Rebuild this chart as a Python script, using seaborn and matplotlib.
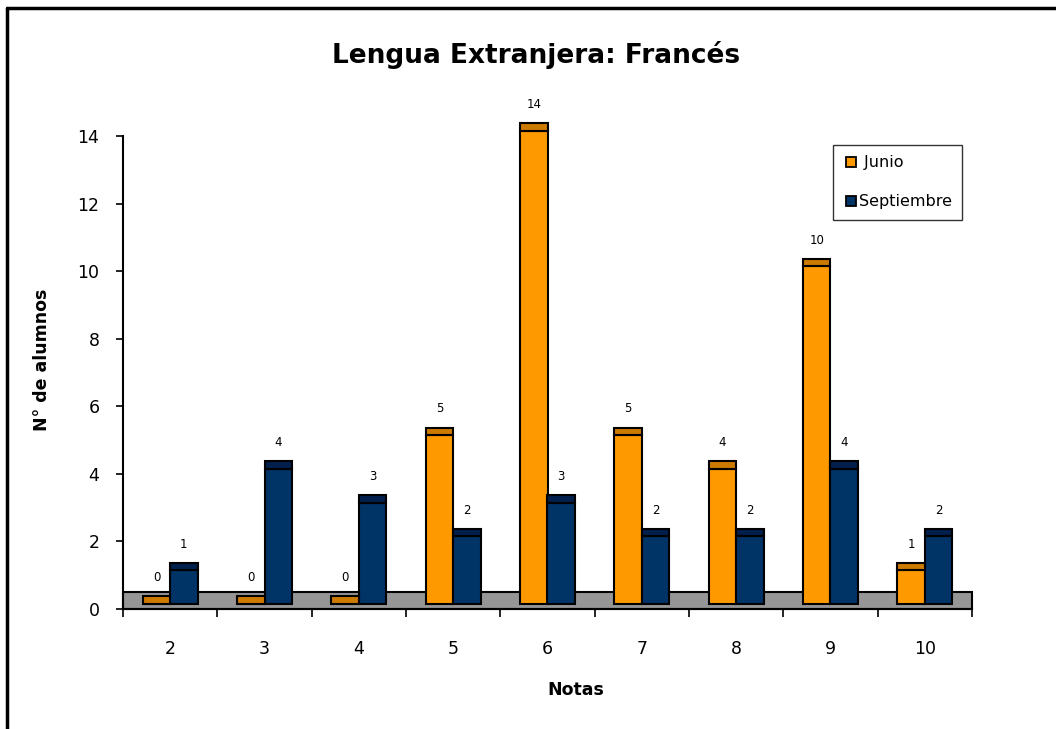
"""
plot.py
bar chart of grades, Junio vs Septiembre (excel style with little 3d caps)
"""

import seaborn as sns
import matplotlib.pyplot as plt
import pandas as pd
from matplotlib.patches import Rectangle
from matplotlib.lines import Line2D

notas = ['2', '3', '4', '5', '6', '7', '8', '9', '10']
junio = [0, 0, 0, 5, 14, 5, 4, 10, 1]
septiembre = [1, 4, 3, 2, 3, 2, 2, 4, 2]
series = ['Junio', 'Septiembre']

# colours: main face and darker top cap
colors = ['#FF9900', '#003366']
cap_colors = ['#CC7A00', '#001F4D']

df = pd.DataFrame({'Notas': notas, 'Junio': junio, 'Septiembre': septiembre})
df = df.melt(id_vars=['Notas'], var_name='Convocatoria', value_name='alumnos')

sns.set_style('ticks')
plt.rcParams['text.color'] = 'black'
plt.rcParams['xtick.color'] = 'black'
plt.rcParams['ytick.color'] = 'black'

fig = plt.figure(figsize=(10.56, 7.29), dpi=100)
ax = fig.add_axes([123/1056, 1 - 609/729, 849/1056, 473/729])

sns.barplot(data=df, x='Notas', y='alumnos', hue='Convocatoria', order=notas,
            hue_order=series, palette=colors, width=0.58, edgecolor='black',
            linewidth=1.5, saturation=1, legend=False, ax=ax, zorder=3)

bars = list(ax.patches)
base = 0.15
cap = 0.22
for i, p in enumerate(bars):
    s = i // len(notas)
    v = p.get_height()
    # lift bar onto the floor
    p.set_y(base)
    p.set_clip_on(False)
    ax.bar(p.get_x(), cap, width=p.get_width(), bottom=v + base, align='edge',
           color=cap_colors[s], edgecolor='black', linewidth=1.5, zorder=3, clip_on=False)
    ax.text(p.get_x() + p.get_width() / 2, v + base + cap + 0.55, str(int(v)),
            ha='center', va='center', fontsize=8.5, color='black')

# grey floor behind the bars
ax.add_patch(Rectangle((-0.5, 0), len(notas), 0.5, facecolor='#969696',
                       edgecolor='black', linewidth=1.5, zorder=1, clip_on=False))

ax.set_xlim(-0.5, len(notas) - 0.5)
ax.set_ylim(0, 14)
ax.set_yticks([0, 2, 4, 6, 8, 10, 12, 14])
ax.set_xticks(range(len(notas)))
ax.set_xticklabels(notas)
ax.set_xticks([i - 0.5 for i in range(len(notas) + 1)], minor=True)
ax.tick_params(axis='x', which='major', length=0, pad=22, labelsize=12.5)
ax.tick_params(axis='x', which='minor', bottom=True, length=6, width=1.2, direction='out')
ax.tick_params(axis='y', left=True, length=5, width=1.2, direction='out', labelsize=12.5, pad=12)
ax.set_xlabel('')
ax.set_ylabel('')
for s in ['top', 'right']:
    ax.spines[s].set_visible(False)
for s in ['left', 'bottom']:
    ax.spines[s].set_linewidth(1.5)
    ax.spines[s].set_color('black')

# legend
handles = [Line2D([], [], marker='s', linestyle='', markersize=7.5, markerfacecolor=c,
                  markeredgecolor='black', markeredgewidth=1.3) for c in colors]
leg = fig.legend(handles, [' Junio', 'Septiembre'], loc='upper left',
                 bbox_to_anchor=(833/1056, 1 - 145/729), bbox_transform=fig.transFigure,
                 borderaxespad=0, frameon=True, fancybox=False, fontsize=11.5,
                 labelspacing=1.5, handletextpad=0.05, handlelength=0.9, borderpad=0.65)
leg.get_frame().set_edgecolor('black')
leg.get_frame().set_linewidth(1)

fig.text(536/1056, 1 - 55/729, 'Lengua Extranjera: Francés', ha='center', va='center',
         fontsize=19, fontweight='bold')
fig.text(42/1056, 1 - 360/729, 'N° de alumnos', ha='center', va='center', rotation=90,
         fontsize=12.5, fontweight='bold')
fig.text(576/1056, 1 - 690/729, 'Notas', ha='center', va='center',
         fontsize=12.5, fontweight='bold')

# outer border (top and left visible in the original)
fig.add_artist(Line2D([7/1056, 7/1056], [0, 1 - 8/729], color='black', linewidth=2.5,
                      transform=fig.transFigure))
fig.add_artist(Line2D([7/1056, 1], [1 - 8/729, 1 - 8/729], color='black', linewidth=2.5,
                      transform=fig.transFigure))

plt.savefig('out.png', dpi=100)
